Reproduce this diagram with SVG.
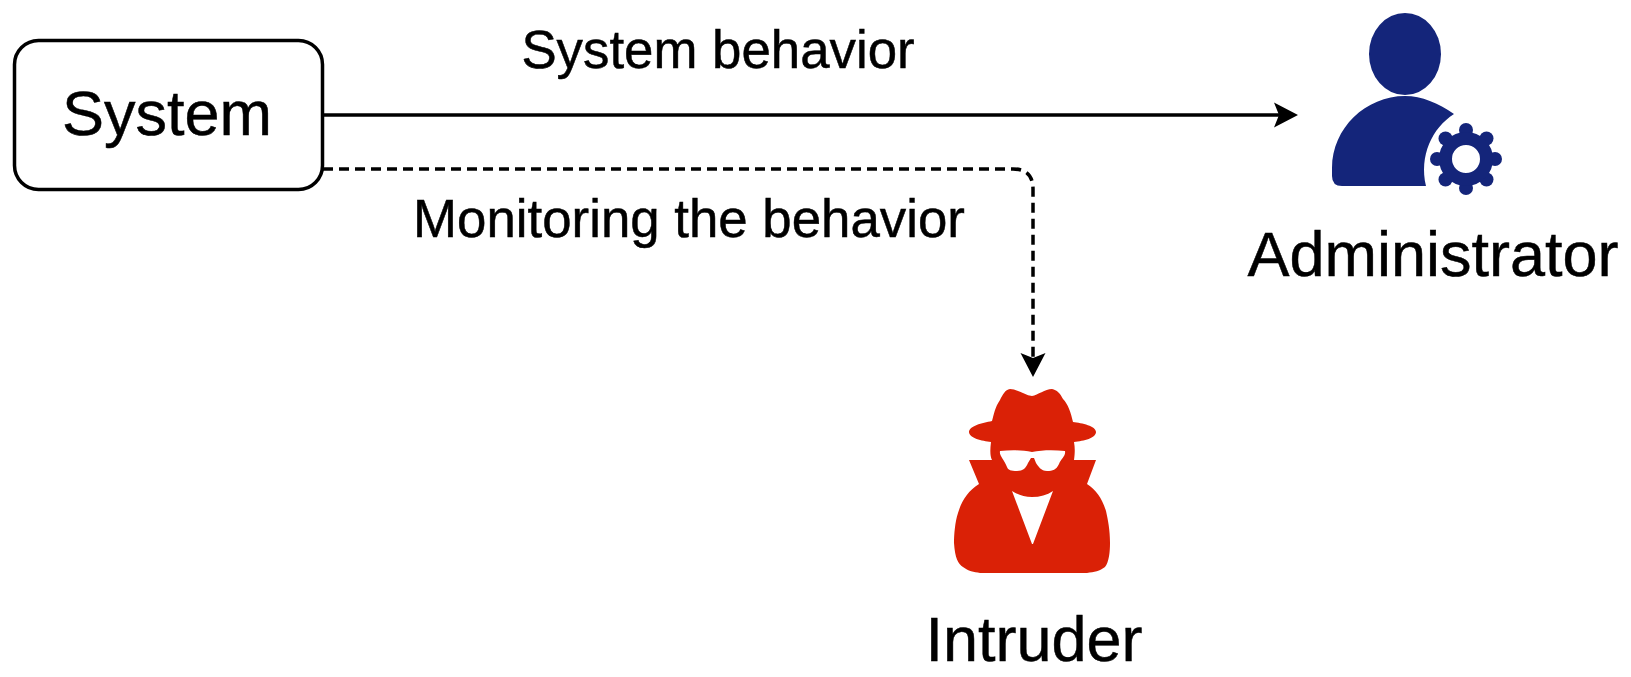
<svg xmlns="http://www.w3.org/2000/svg" width="1631" height="677" viewBox="0 0 1631 677">
<style>
text{font-family:"Liberation Sans",Arial,sans-serif;fill:#000;stroke:#000;stroke-width:.5;text-anchor:middle}
.big{font-size:63px}.mid{font-size:52.8px}
.line{fill:none;stroke:#000;stroke-width:3.500}
.blue{fill:#14257a}.red{fill:#da2106}
</style>
<defs>
<marker id="arrow" markerUnits="userSpaceOnUse" markerWidth="25" markerHeight="26" refX="5" refY="13" orient="auto" viewBox="0 0 25 26">
<path d="M0 0.500L24 13L0 25.500L5 13Z" fill="#000"/>
</marker>
</defs>
<rect width="1631" height="677" fill="#fff"/>
<g id="connectors">
<path class="line" d="M323 115H1279" marker-end="url(#arrow)"/>
<path class="line" d="M323 169H1013Q1033 169 1033 189V358" stroke-dasharray="10 6" marker-end="url(#arrow)"/>
</g>
<g id="system">
<rect x="14.500" y="40.500" width="308" height="149" rx="24" fill="#fff" stroke="#000" stroke-width="3.500"/>
<text class="big" x="167" y="135">System</text>
</g>
<g id="edge-labels">
<text class="mid" x="718" y="68">System behavior</text>
<text class="mid" x="689" y="237">Monitoring the behavior</text>
</g>
<g id="administrator">
<ellipse class="blue" cx="1405" cy="54" rx="36" ry="41"/>
<path class="blue" d="M1405 96C1422 96 1438 103 1454 114C1432 128 1419 156 1426 186H1342Q1332 186 1332 176V168C1332 128 1366 96 1405 96Z"/>
<g class="blue">
<circle cx="1466" cy="130" r="7"/><circle cx="1466" cy="188" r="7"/><circle cx="1437" cy="159" r="7"/><circle cx="1495" cy="159" r="7"/>
<circle cx="1445.500" cy="138.500" r="7"/><circle cx="1486.500" cy="138.500" r="7"/><circle cx="1445.500" cy="179.500" r="7"/><circle cx="1486.500" cy="179.500" r="7"/>
</g>
<circle cx="1466" cy="159" r="20.500" fill="none" stroke="#14257a" stroke-width="13"/>
<text class="big" x="1433" y="276">Administrator</text>
</g>
<g id="intruder">
<path class="red" d="M1032 396C1025 395 1017 389 1010 389C1005 390 1003 394 1000 400C995 407 994 414 992 421C982 423 969 426 969 432C969 438 982 441 991 442C990 450 990 456 992 460H969L979 484C968 491 962 500 958 513C955 522 954 535 954 543C955 558 958 564 963 567C968 571 974 572 980 573H1087C1094 572 1100 571 1105 567C1109 562 1110 552 1110 543C1110 530 1108 520 1106 511C1102 498 1096 490 1087 484L1096 460H1074C1075 452 1075 448 1074 442C1084 441 1096 438 1096 432C1096 426 1082 423 1073 422C1071 413 1068 404 1063 399C1060 393 1057 390 1052 389C1045 389 1038 395 1032 396Z"/>
<path fill="#fff" d="M1000 451C1011 450 1022 450 1032 452C1042 450 1054 450 1065 451C1066 456 1061 459 1059 464C1056 470 1053 471 1047 471C1041 471 1038 466 1036 463L1034 458H1031L1028 463C1026 468 1023 471 1017 471C1011 471 1008 470 1007 467C1004 459 999 456 1000 451Z"/>
<path fill="#fff" d="M1012 491C1018 495 1024 497 1032 497C1040 497 1047 495 1053 491L1033 544H1032Z"/>
<text class="big" x="1034" y="661">Intruder</text>
</g>
</svg>
